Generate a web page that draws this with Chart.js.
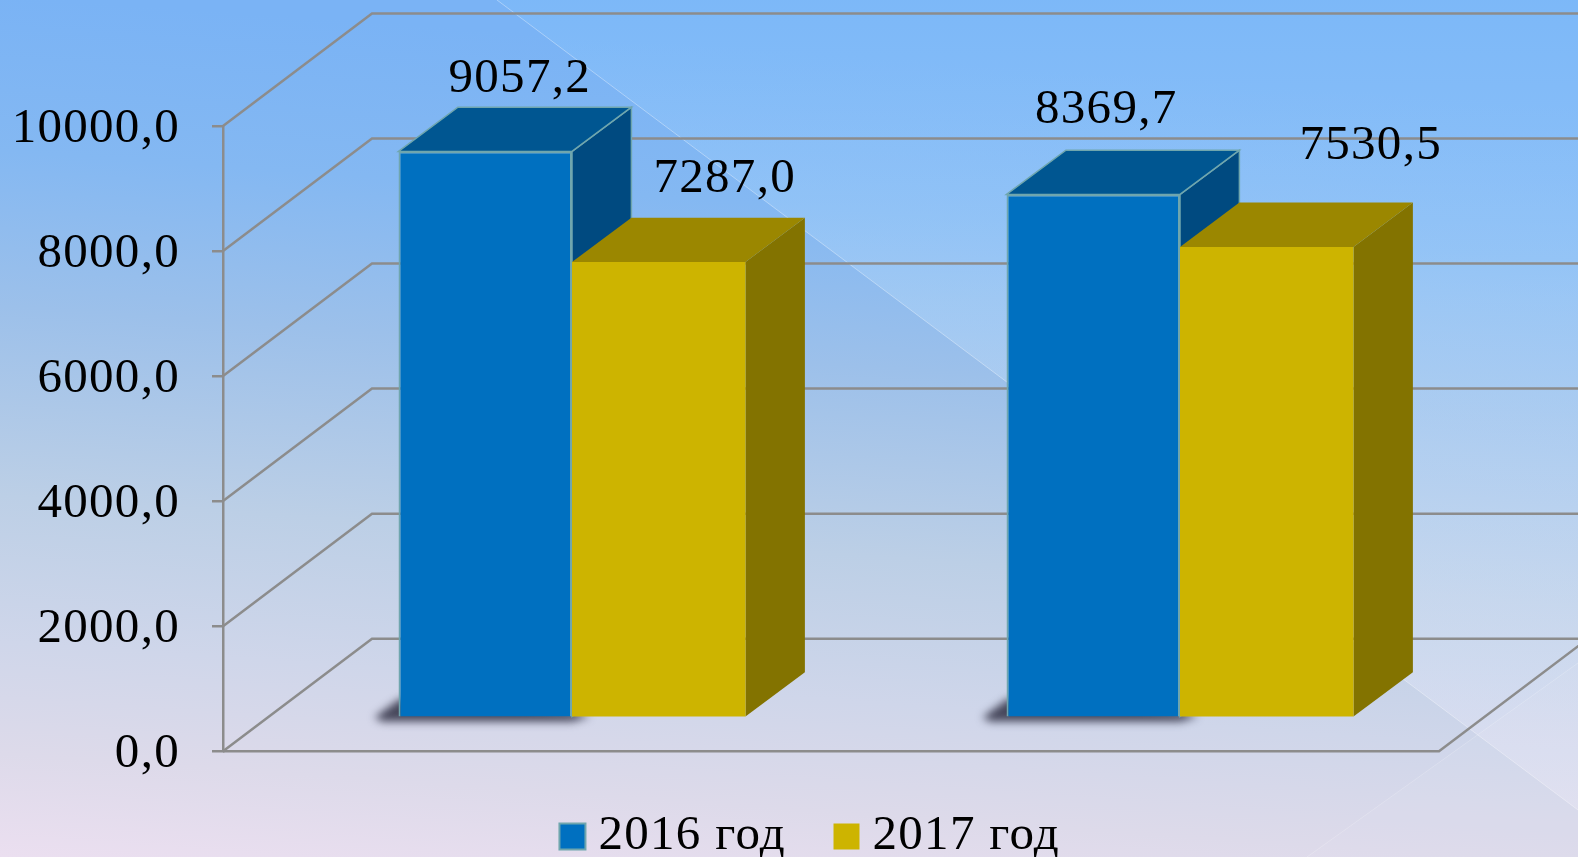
<!DOCTYPE html>
<html><head><meta charset="utf-8">
<style>html,body{margin:0;padding:0;overflow:hidden;background:#c0d0e8}canvas{display:block}</style>
<script src="https://cdn.jsdelivr.net/npm/chart.js@4"></script>
</head><body><canvas id="c" width="1578" height="857"></canvas>
<script>
const categories = ['', ''];
const seriesNames = ['2016 год', '2017 год'];
const values2016 = [9057.2, 8369.7];
const values2017 = [7287.0, 7530.5];
const tickStep = 2000;
const axisMax = 10000;

const FONT = '"Liberation Serif", serif';
const FS = 49;
const LS = '1.3px';
const GRID = '#8c8c8c';
const EDGE = '#6fa6ae';
const BACK = {dx:149, dy:-112.5};
const PLANE = {dx:45, dy:-33.5};
const DEPTH = {dx:59.4, dy:-44.3};
const LEGEND_PAD = 59;
const faceColors = [
  {top:'#005691', side:'#004a80', edge:EDGE},
  {top:'#9b8700', side:'#837300', edge:null}
];
// hand-placed data labels in the reference (offset from bar's top-centre)
const labelNudge = [
  [[34.5,-72.5],[13,-84.5]],
  [[66,-82.5],[104,-101]]
];
const fmt = v => Number(v).toFixed(1).replace('.', ',');

function poly(ctx, pts, fill, stroke){
  ctx.beginPath();
  pts.forEach((p,i)=> i?ctx.lineTo(p[0],p[1]):ctx.moveTo(p[0],p[1]));
  ctx.closePath();
  if(fill){ctx.fillStyle=fill;ctx.fill();}
  if(stroke){ctx.strokeStyle=stroke;ctx.lineWidth=1.5;ctx.stroke();}
}

const bgPlugin = {
  id:'bg',
  beforeLayout(ch){ ch.ctx.letterSpacing = LS; },
  afterLayout(ch){
    const l = ch.legend;
    const dx = 96, top = 812 - LEGEND_PAD;
    l.left += dx; l.right += dx; l.bottom += top - l.top; l.top = top;
    ch.ctx.letterSpacing = LS;
  },
  beforeDraw(ch){
    const ctx = ch.ctx, W = ch.width, H = ch.height;
    ctx.letterSpacing = LS;
    ctx.save();
    const g = ctx.createLinearGradient(60,0,0,H);
    g.addColorStop(0,'#7ab3f5');
    g.addColorStop(0.18,'#84b8f2');
    g.addColorStop(0.36,'#9cc0ea');
    g.addColorStop(0.58,'#bccfe6');
    g.addColorStop(0.75,'#cfd6ea');
    g.addColorStop(0.88,'#dddaea');
    g.addColorStop(1,'#ebdff0');
    ctx.fillStyle = g; ctx.fillRect(0,0,W,H);
    // upper-right facet
    const f = ctx.createLinearGradient(0,0,0,810);
    f.addColorStop(0,'rgba(130,195,255,0.32)');
    f.addColorStop(0.37,'rgba(190,225,255,0.32)');
    f.addColorStop(1,'rgba(240,235,250,0.36)');
    poly(ctx,[[497,0],[W,0],[W,810]],f);
    // lower-right facet
    poly(ctx,[[W,663],[W,H],[1307,H]],'rgba(255,255,255,0.05)');
    ctx.strokeStyle='rgba(255,255,255,0.35)';ctx.lineWidth=1;
    ctx.beginPath();ctx.moveTo(497,0);ctx.lineTo(W,810);ctx.stroke();
    ctx.strokeStyle='rgba(255,255,255,0.2)';
    ctx.beginPath();ctx.moveTo(W,663);ctx.lineTo(1307,H);ctx.stroke();
    ctx.restore();
  },
  beforeDatasetsDraw(ch){
    const ctx = ch.ctx, y = ch.scales.y, a = ch.chartArea;
    ctx.save();
    ctx.strokeStyle = GRID; ctx.lineWidth = 2.5;
    // walls
    y.ticks.forEach(t=>{
      const py = y.getPixelForValue(t.value);
      ctx.beginPath();
      ctx.moveTo(a.left,py);
      ctx.lineTo(a.left+BACK.dx,py+BACK.dy);
      ctx.lineTo(ch.width+2,py+BACK.dy);
      ctx.stroke();
    });
    // floor front
    const b = y.getPixelForValue(0);
    ctx.beginPath();
    ctx.moveTo(a.left,b);ctx.lineTo(a.right,b);ctx.lineTo(a.right+BACK.dx,b+BACK.dy);
    ctx.stroke();
    // soft shadow under first series
    const m0 = ch.getDatasetMeta(0);
    m0.data.forEach(el=>{
      const p = el.getProps(['x','y','base','width'],true);
      const L = p.x-p.width/2+PLANE.dx, R = p.x+p.width/2+PLANE.dx, B = p.base+PLANE.dy;
      ctx.save();
      ctx.filter='blur(4px)';
      poly(ctx,[[L+2,B-18],[L-24,B+1],[L-16,B+5],[L+10,B+5],[R,B+5],[R+18,B],[R,B-5]],'rgba(45,45,65,0.85)');
      ctx.restore();
    });
    // side and top faces, behind fronts
    ch.data.datasets.forEach((ds,i)=>{
      const meta = ch.getDatasetMeta(i), c = faceColors[i];
      meta.data.forEach(el=>{
        const p = el.getProps(['x','y','base','width'],true);
        const L = p.x-p.width/2+PLANE.dx, R = p.x+p.width/2+PLANE.dx;
        const T = p.y+PLANE.dy, B = p.base+PLANE.dy;
        const d = DEPTH;
        poly(ctx,[[R,T],[R+d.dx,T+d.dy],[R+d.dx,B+d.dy],[R,B]],c.side,c.edge);
        poly(ctx,[[L,T],[L+d.dx,T+d.dy],[R+d.dx,T+d.dy],[R,T]],c.top,c.edge);
      });
    });
    ctx.restore();
    ctx.save();
    ctx.translate(PLANE.dx,PLANE.dy);
  },
  afterDatasetsDraw(ch){
    const ctx = ch.ctx;
    ctx.restore();
    ctx.save();
    ctx.font = FS+'px '+FONT;
    ctx.fillStyle='#000';
    ctx.textAlign='center';ctx.textBaseline='middle';
    ch.data.datasets.forEach((ds,i)=>{
      ch.getDatasetMeta(i).data.forEach((el,j)=>{
        const p = el.getProps(['x','y'],true), n = labelNudge[i][j];
        ctx.fillText(fmt(ds.data[j]),p.x+PLANE.dx+n[0],p.y+PLANE.dy+n[1]);
      });
    });
    ctx.restore();
  }
};

new Chart(document.getElementById('c'),{
  type:'bar',
  data:{labels:categories,datasets:[
    {label:seriesNames[0],data:values2016,backgroundColor:'#0070c0',borderColor:EDGE,borderWidth:2,clip:false},
    {label:seriesNames[1],data:values2017,backgroundColor:'#cdb400',borderColor:'#cdb400',borderWidth:0,clip:false}
  ]},
  plugins:[bgPlugin],
  options:{
    responsive:false,animation:false,devicePixelRatio:1,
    categoryPercentage:0.5707,barPercentage:1,
    layout:{padding:{left:0,right:139,top:126,bottom:-12.2}},
    plugins:{
      tooltip:{enabled:false},
      legend:{position:'bottom',labels:{
        usePointStyle:true,pointStyle:'rect',
        boxWidth:3,boxHeight:26,padding:LEGEND_PAD,color:'#000',
        font:{family:FONT,size:FS}
      }}
    },
    scales:{
      x:{display:false,grid:{display:false}},
      y:{
        min:0,max:axisMax,
        afterFit(s){s.width=223;},
        border:{display:true,color:GRID,width:2.5},
        grid:{drawOnChartArea:false,drawTicks:true,tickLength:11,color:GRID,lineWidth:2.5},
        ticks:{stepSize:tickStep,padding:32,labelOffset:3,color:'#000',font:{family:FONT,size:FS},callback:fmt}
      }
    }
  }
});
</script></body></html>
